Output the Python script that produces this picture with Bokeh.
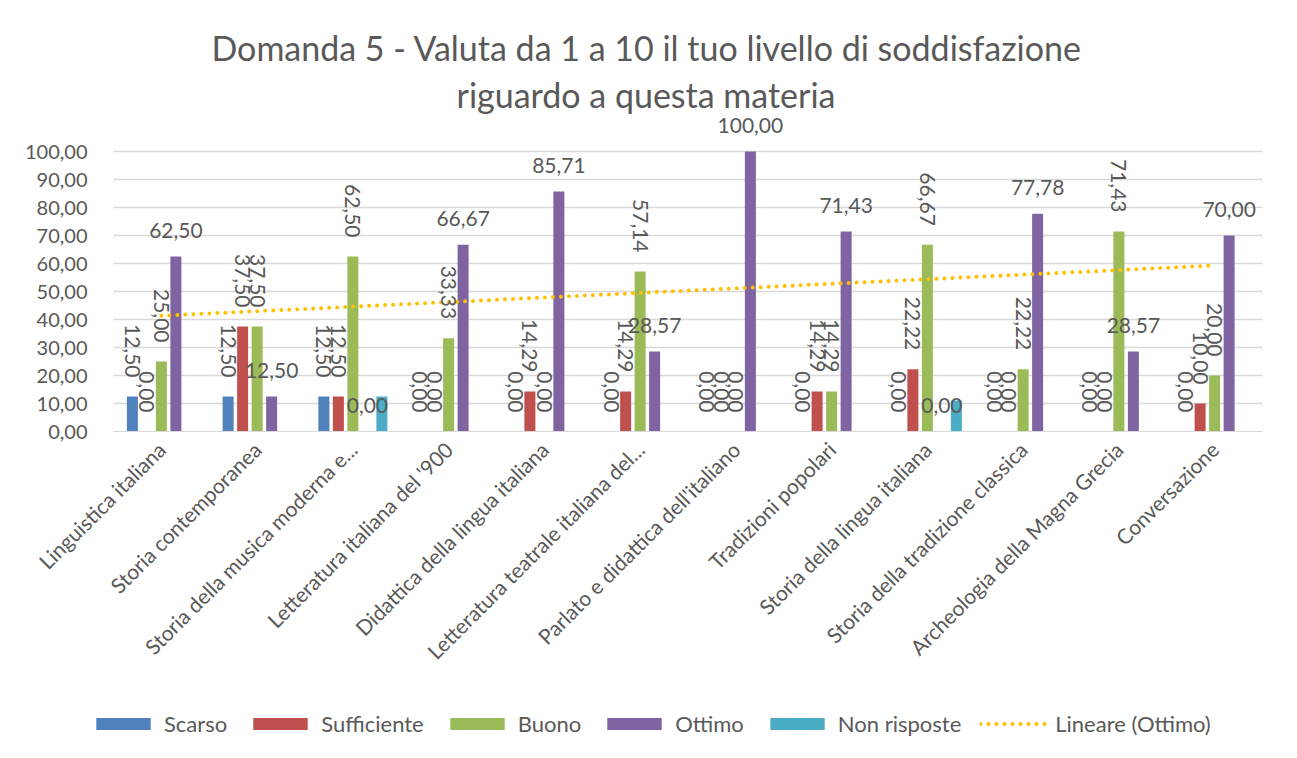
import numpy as np
from bokeh.plotting import figure
from bokeh.layouts import column
from bokeh.models import (ColumnDataSource, FactorRange, Range1d, FixedTicker,
                          CustomJSTickFormatter, Legend, LegendItem, Title)
from bokeh.transform import dodge
from bokeh.core.properties import value
from bokeh.embed import file_html
from bokeh.resources import INLINE

# ---------------- data ----------------
categories = [
    "Linguistica italiana",
    "Storia contemporanea",
    "Storia della musica moderna e...",
    "Letteratura italiana del '900",
    "Didattica della lingua italiana",
    "Letteratura teatrale italiana del...",
    "Parlato e didattica dell'italiano",
    "Tradizioni popolari",
    "Storia della lingua italiana",
    "Storia della tradizione classica",
    "Archeologia della Magna Grecia",
    "Conversazione",
]
scarso = [12.50, 12.50, 12.50, 0, 0, 0, 0, 0, 0, 0, 0, 0]
sufficiente = [0, 37.50, 12.50, 0, 14.29, 14.29, 0, 14.29, 22.22, 0, 0, 10.00]
buono = [25.00, 37.50, 62.50, 33.33, 0, 57.14, 0, 14.29, 66.67, 22.22, 71.43, 20.00]
ottimo = [62.50, 12.50, 0, 66.67, 85.71, 28.57, 100.00, 71.43, 0, 77.78, 28.57, 70.00]
non_risposte = [0, 0, 12.50, 0, 0, 0, 0, 0, 11.11, 0, 0, 0]
series_names = ["Scarso", "Sufficiente", "Buono", "Ottimo", "Non risposte"]
trend_name = "Lineare (Ottimo)"
y_ticks = [0, 10, 20, 30, 40, 50, 60, 70, 80, 90, 100]
title_lines = ["Domanda 5 - Valuta da 1 a 10 il tuo livello di soddisfazione",
               "riguardo a questa materia"]

# ---------------- style ----------------
colors = ["#4F81BD", "#C0504D", "#9BBB59", "#8064A2", "#4BACC6"]
trend_color = "#FFC000"
text_color = "#595959"
grid_color = "#D9D9D9"
FONT = "Lato"

W = 1289
H_MAIN, H_LEG = 700, 50
ML, MR, MT = 113, 27, 114
zero_px = 430.7                      # screen row of the value 0
MB = int(round(H_MAIN - zero_px))
px_per_unit = 2.8
y_end = (H_MAIN - MB - MT) / px_per_unit

slot = 0.1514
bar_w = 0.115


def fmt(v):
    return f"{v:.2f}".replace(".", ",")


values = [scarso, sufficiente, buono, ottimo, non_risposte]
data = {"cat": categories}
for name, vals in zip(series_names, values):
    data[name] = vals
    data[name + "_lbl"] = [fmt(v) for v in vals]

# linear trend of Ottimo (least squares over category index)
xs = np.arange(1, len(categories) + 1)
k, b = np.polyfit(xs, np.array(ottimo, dtype=float), 1)
data["trend"] = list(k * xs + b)

src = ColumnDataSource(data)
xr = FactorRange(*categories)

p = figure(width=W, height=H_MAIN, x_range=xr,
           y_range=Range1d(0, y_end), output_backend="svg",
           toolbar_location=None, min_border_left=ML, min_border_right=MR,
           min_border_top=MT, min_border_bottom=MB, title=None)
p.outline_line_color = None
p.background_fill_color = "white"
p.border_fill_color = "white"

# title (two lines; first added sits nearest the frame)
t2 = Title(text=title_lines[1], align="left", offset=343, standoff=0,
           text_font=FONT, text_font_size="34px", text_font_style="normal",
           text_color=text_color)
t1 = Title(text=title_lines[0], align="left", offset=98, standoff=7,
           text_font=FONT, text_font_size="34px", text_font_style="normal",
           text_color=text_color)
p.add_layout(t2, "above")
p.add_layout(t1, "above")

# axes
p.yaxis.ticker = FixedTicker(ticks=y_ticks)
p.yaxis.formatter = CustomJSTickFormatter(code="return tick.toFixed(2).replace('.', ',');")
p.yaxis.axis_line_color = None
p.yaxis.major_tick_line_color = None
p.yaxis.minor_tick_line_color = None
p.yaxis.major_label_standoff = 20
p.yaxis.major_label_text_font = FONT
p.yaxis.major_label_text_font_size = "20px"
p.yaxis.major_label_text_color = text_color

p.xaxis.axis_line_color = grid_color
p.xaxis.major_tick_line_color = None
p.xaxis.minor_tick_line_color = None
p.xaxis.major_label_orientation = np.pi / 4
p.xaxis.major_label_standoff = 8
p.xaxis.major_label_text_font = FONT
p.xaxis.major_label_text_font_size = "21px"
p.xaxis.major_label_text_color = text_color

p.xgrid.grid_line_color = None
p.ygrid.grid_line_color = grid_color
p.ygrid.grid_line_width = 1.3

# bars
bar_kw = []
for i, (name, col) in enumerate(zip(series_names, colors)):
    kw = dict(x=dodge("cat", (i - 2) * slot, range=xr), top=name,
              width=bar_w, source=src, fill_color=col, line_color=None)
    bar_kw.append(kw)
    p.vbar(**kw)

# trend line
trend_kw = dict(x="cat", y="trend", source=src, line_color=trend_color,
                line_width=4, line_dash="0 8", line_cap="round")
p.line(**trend_kw)

# data labels: rotated for first three series, horizontal for Ottimo
for i, name in enumerate(series_names[:3]):
    p.text(x=dodge("cat", (i - 2) * slot, range=xr), y=name,
           text=name + "_lbl", source=src, angle=-np.pi / 2,
           text_align="right", text_baseline="middle", y_offset=-19,
           text_font=value(FONT), text_font_size="21px", text_color=text_color)
p.text(x=dodge("cat", 1 * slot, range=xr), y="Ottimo", text="Ottimo_lbl",
       source=src, text_align="center", text_baseline="middle", y_offset=-26,
       text_font=value(FONT), text_font_size="21px", text_color=text_color)

# ---------------- legend strip under the chart ----------------
q = figure(width=W, height=H_LEG, x_range=xr, y_range=Range1d(0, 1),
           output_backend="svg", toolbar_location=None, min_border=0,
           x_axis_location=None, y_axis_location=None, title=None)
q.frame_align = False
q.outline_line_color = None
q.xgrid.visible = False
q.ygrid.visible = False
swatches = [q.vbar(visible=False, **kw) for kw in bar_kw]
swatches.append(q.line(visible=False, **trend_kw))
items = [LegendItem(label=n, renderers=[r])
         for n, r in zip(series_names + [trend_name], swatches)]
legend = Legend(items=items, orientation="horizontal", location=(89, 13),
                glyph_width=68, glyph_height=15, label_standoff=7, spacing=19,
                padding=0, margin=0, border_line_color=None,
                background_fill_alpha=0, label_text_font=FONT,
                label_text_font_size="22px", label_text_color=text_color)
q.add_layout(legend)

page = column(p, q, spacing=0)
open("out.html", "w").write(file_html(page, INLINE))
